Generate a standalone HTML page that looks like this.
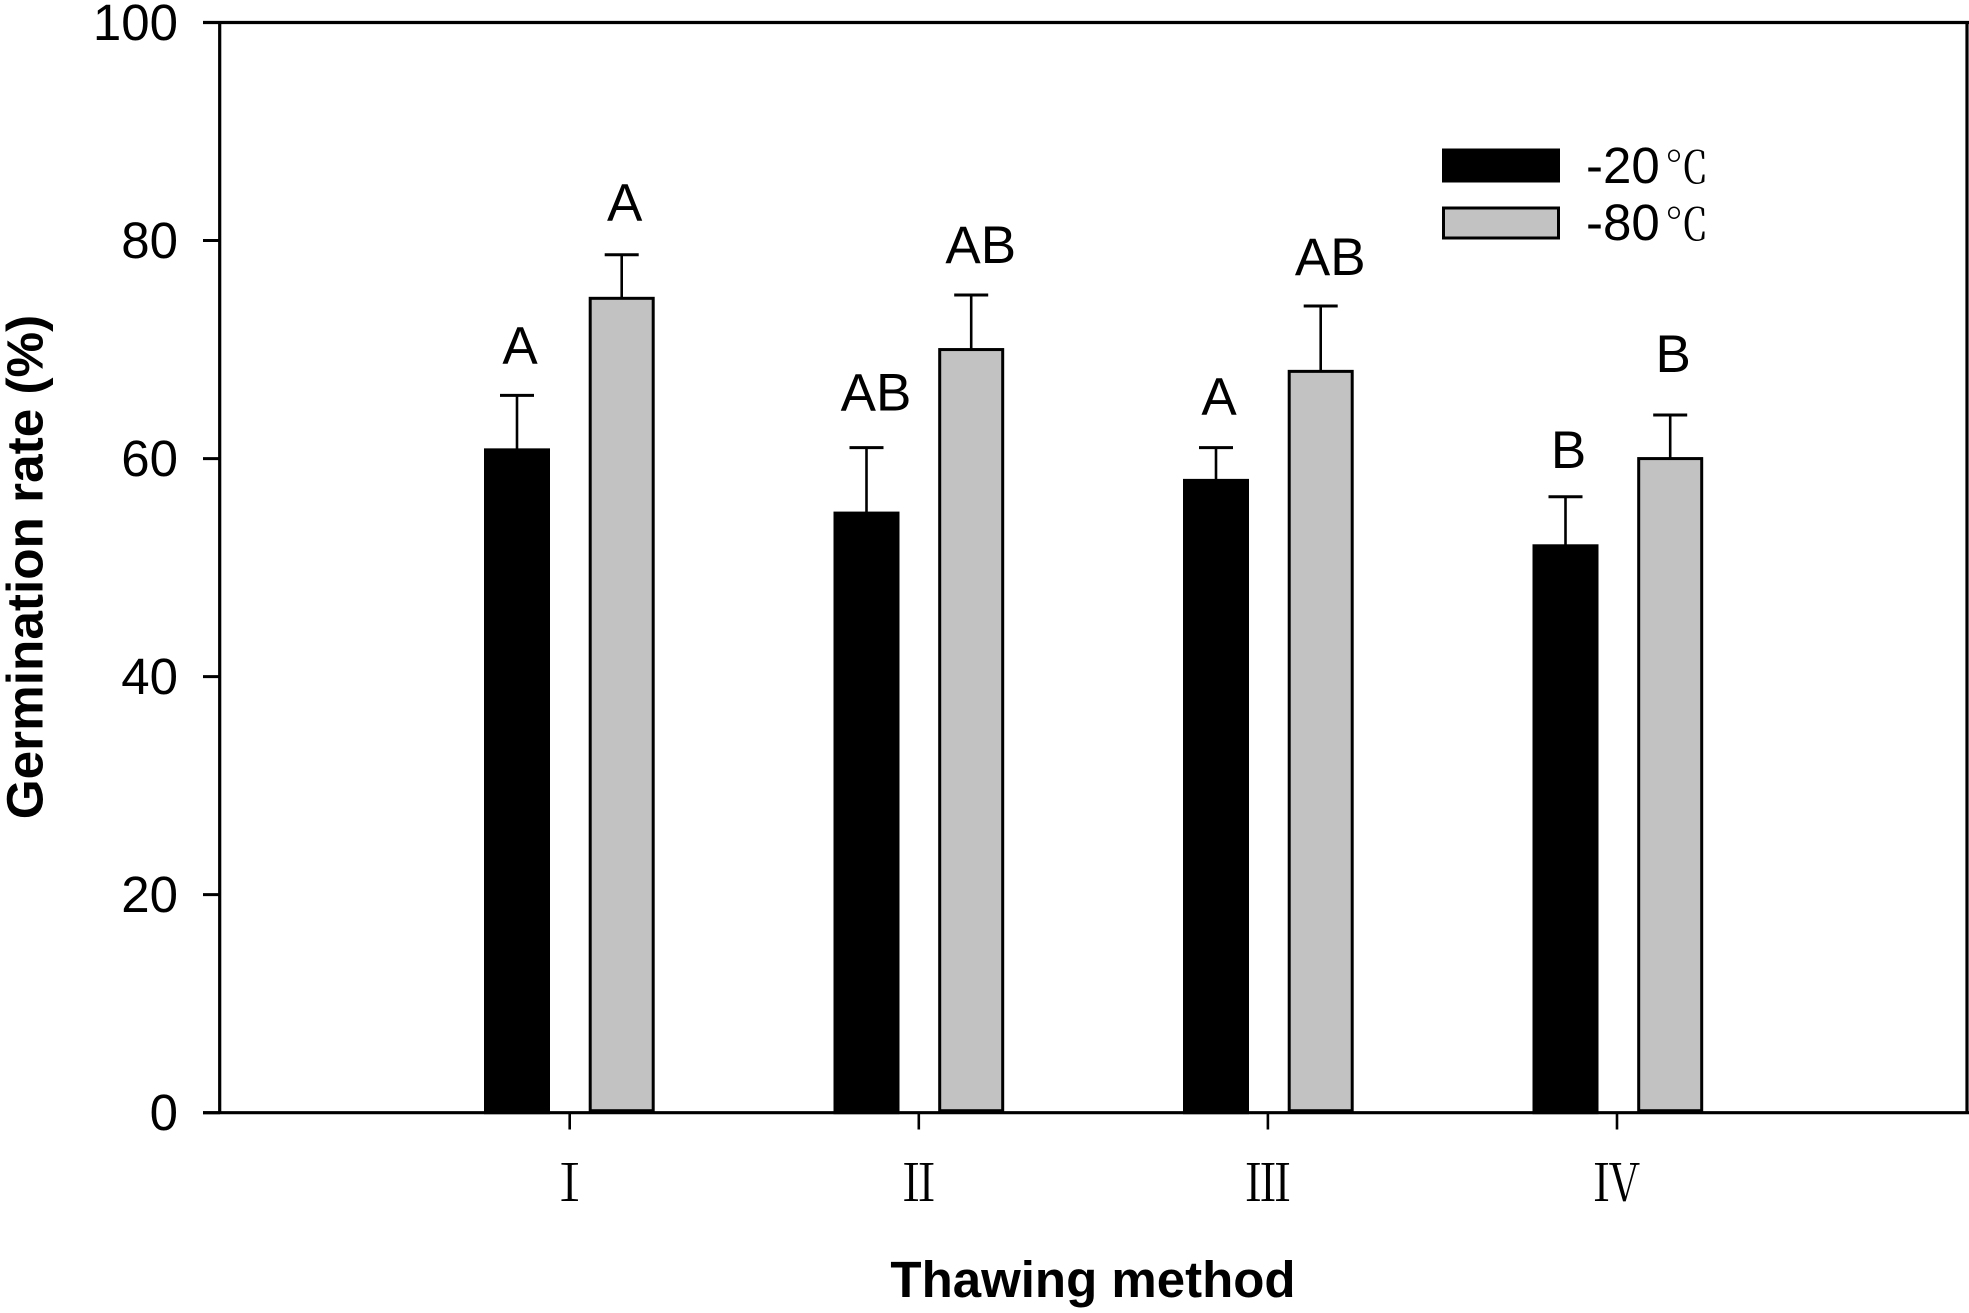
<!DOCTYPE html>
<html lang="en">
<head>
<meta charset="utf-8">
<title>Germination rate by thawing method</title>
<style>
html,body{margin:0;padding:0;background:#fff;}
svg{display:block;}
text{fill:#000;font-family:"Liberation Sans",Arial,sans-serif;}
.roman,.deg{font-family:"Noto Serif CJK SC","Liberation Serif",serif;}
</style>
</head>
<body>
<svg id="chart" xmlns="http://www.w3.org/2000/svg" width="1969" height="1313" viewBox="0 0 1969 1313">
  <rect x="0" y="0" width="1969" height="1313" fill="#fff"/>
  <g id="bars"></g>
  <g id="axes"></g>
  <text transform="translate(42.5 567) rotate(-90)" text-anchor="middle" font-size="51.3" font-weight="700">Germination rate (%)</text>
  <text x="1093" y="1297" text-anchor="middle" font-size="51" font-weight="700">Thawing method</text>
  <g>
    <rect x="1442.5" y="149" width="117" height="33" fill="#000" stroke="#000" stroke-width="1"/>
    <text x="1586" y="183" font-size="51">-20<tspan class="deg" font-size="44" dx="5">℃</tspan></text>
    <rect x="1443.5" y="208" width="115" height="30" fill="#c2c2c2" stroke="#000" stroke-width="3"/>
    <text x="1586" y="240" font-size="51">-80<tspan class="deg" font-size="44" dx="5">℃</tspan></text>
  </g>
</svg>
<script>
const categories = ['Ⅰ', 'Ⅱ', 'Ⅲ', 'Ⅳ'];
const yTicks = [0, 20, 40, 60, 80, 100];
const minus20Values = [60.8, 55, 58, 52];
const minus80Values = [74.7, 70, 68, 60];
const minus20ErrorTops = [65.8, 61, 61, 56.5];
const minus80ErrorTops = [78.7, 75, 74, 64];
const minus20Letters = ['A', 'AB', 'A', 'B'];
const minus80Letters = ['A', 'AB', 'AB', 'B'];
const minus20LetterLevels = [68.4, 64.1, 63.7, 58.8];
const minus80LetterLevels = [81.5, 77.6, 76.5, 67.6];

const NS = 'http://www.w3.org/2000/svg';
const barsLayer = document.getElementById('bars');
const axesLayer = document.getElementById('axes');

function yScale(v) { return 1112.7 - v * 10.902; }
function xScale(i) { return 569.7 + i * 349.1; }
function barCenter(i) { return 569.7 + i * 349.5; }

function makeLine(x1, y1, x2, y2, w) {
  const el = document.createElementNS(NS, 'line');
  el.setAttribute('x1', x1);
  el.setAttribute('y1', y1);
  el.setAttribute('x2', x2);
  el.setAttribute('y2', y2);
  el.setAttribute('stroke', '#000');
  el.setAttribute('stroke-width', w);
  return el;
}

function makeText(x, y, str, size, anchor) {
  const el = document.createElementNS(NS, 'text');
  el.setAttribute('x', x);
  el.setAttribute('y', y);
  el.setAttribute('font-size', size);
  el.setAttribute('text-anchor', anchor);
  el.textContent = str;
  return el;
}

function drawSeries(values, errorTops, letters, levels, offset, fill, baseLift, seriesName) {
  values.forEach(function (v, i) {
    const cx = barCenter(i) + offset;
    const top = yScale(v);

    const stem = makeLine(cx, top, cx, yScale(errorTops[i]), 2.6);
    
    
    barsLayer.appendChild(stem);

    const cap = makeLine(cx - 17, yScale(errorTops[i]), cx + 17, yScale(errorTops[i]), 3);
    
    
    barsLayer.appendChild(cap);

    const bar = document.createElementNS(NS, 'rect');
    bar.setAttribute('x', cx - 31.5);
    bar.setAttribute('y', top);
    bar.setAttribute('width', 63);
    bar.setAttribute('height', yScale(0) - baseLift - top);
    bar.setAttribute('fill', fill);
    bar.setAttribute('stroke', '#000');
    bar.setAttribute('stroke-width', 3);
    
    
    barsLayer.appendChild(bar);

    const nudge = letters[i].length > 1 ? 9.5 : 3;
    const label = makeText(cx + nudge, yScale(levels[i]) - 3.5, letters[i], 53, 'middle');
    
    
    barsLayer.appendChild(label);
  });
}

drawSeries(minus20Values, minus20ErrorTops, minus20Letters, minus20LetterLevels, -52.7, '#000', 0, 'minus-20');
drawSeries(minus80Values, minus80ErrorTops, minus80Letters, minus80LetterLevels, 52, '#c2c2c2', 2, 'minus-80');

const frameTop = makeLine(203, yScale(100), 1969, yScale(100), 3.2);


axesLayer.appendChild(frameTop);

const frameRight = makeLine(1967, yScale(100), 1967, yScale(0), 3.2);


axesLayer.appendChild(frameRight);

const xAxisLine = makeLine(203, yScale(0), 1969, yScale(0), 3.2);


axesLayer.appendChild(xAxisLine);

const yAxisLine = makeLine(219.7, yScale(100), 219.7, yScale(0), 3.2);


axesLayer.appendChild(yAxisLine);

yTicks.forEach(function (t) {
  const tick = makeLine(203, yScale(t), 220, yScale(t), 3);
  
  
  axesLayer.appendChild(tick);

  const label = makeText(178, yScale(t) + 17.5, String(t), 51, 'end');
  
  
  axesLayer.appendChild(label);
});

categories.forEach(function (c, i) {
  const tick = makeLine(xScale(i), yScale(0), xScale(i), 1129.5, 2.6);
  
  
  axesLayer.appendChild(tick);

  const label = makeText(0, 0, c, 51, 'middle');
  label.setAttribute('transform', 'translate(' + xScale(i) + ' 1201) scale(0.92 1)');
  label.setAttribute('class', 'roman');
  
  
  axesLayer.appendChild(label);
});
</script>
</body>
</html>
